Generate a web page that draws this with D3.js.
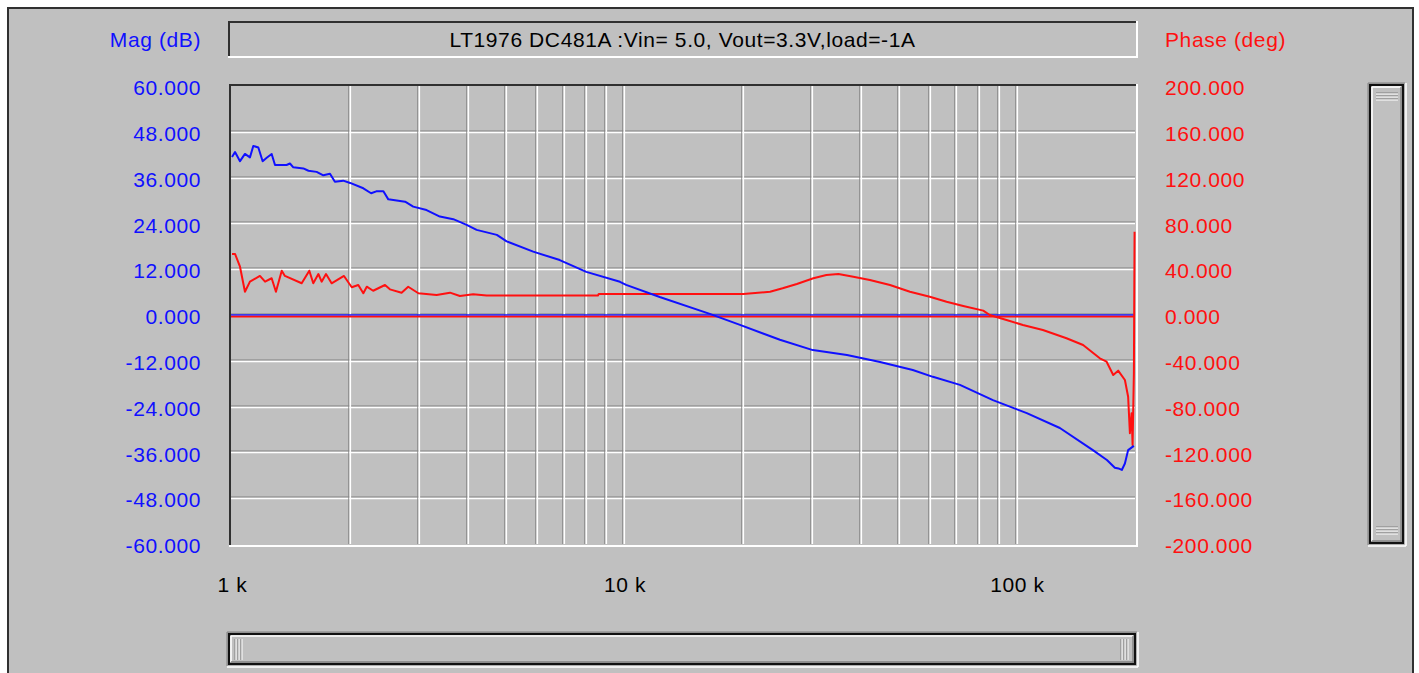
<!DOCTYPE html>
<html><head><meta charset="utf-8">
<script src="https://cdn.jsdelivr.net/npm/d3@7"></script>
<style>
html,body{margin:0;padding:0;background:#fff;}
svg text{font-family:"Liberation Sans",Arial,sans-serif;font-size:21px;letter-spacing:0.6px;}
</style></head>
<body>
<svg id="c" width="1419" height="673"></svg>
<script>
// ---- data ----
const title = "LT1976 DC481A :Vin= 5.0, Vout=3.3V,load=-1A";
const magTicks = [60,48,36,24,12,0,-12,-24,-36,-48,-60];
const phaseTicks = [200,160,120,80,40,0,-40,-80,-120,-160,-200];
const freqLabelValues = [1000,10000,100000];
const freqLabelText = ["1 k","10 k","100 k"];
const gridFreqs = [2000,3000,4000,5000,6000,7000,8000,9000,10000,20000,30000,40000,50000,60000,70000,80000,90000,100000];

const magFreq = [1000,1018,1048,1079,1111,1133,1167,1197,1226,1262,1287,1377,1405,1433,1520,1566,1643,1709,1777,1829,1920,2000,2161,2262,2332,2431,2502,2761,2896,3131,3386,3663,3962,4201,4730,5011,5855,6842,7996,9740,10100,12300,16500,19700,24900,30200,36900,44800,54300,61100,71600,86900,106000,128700,156200,169600,177700,181500,185100,188500,192100,198700];
const magDb = [41.4,42.7,40.3,42.2,41.3,44.3,43.9,40.3,41.2,42.2,39.3,39.3,39.7,38.7,38.4,37.8,37.5,36.6,37.0,34.9,35.2,34.6,33.2,31.9,32.4,32.4,30.3,29.7,28.4,27.5,25.8,25.1,23.6,22.3,21.0,19.3,16.6,14.4,11.3,8.7,7.9,4.7,0.3,-2.6,-6.5,-9.2,-10.5,-12.3,-14.4,-16.2,-18.3,-22.3,-25.7,-29.6,-35.4,-38.0,-40.0,-40.2,-40.6,-38.9,-35.4,-34.3];

const phaseFreq = [1000,1018,1048,1079,1111,1178,1214,1262,1294,1339,1364,1505,1574,1611,1660,1692,1736,1794,1929,2019,2098,2161,2205,2289,2454,2526,2705,2812,2985,3322,3593,3808,4117,4455,8560,8600,20080,23500,25300,27500,30300,32700,35100,38300,42200,47500,53400,60000,66200,73000,82100,85300,94100,103600,116500,133800,147500,162700,169300,176000,181200,188500,192100,194100,196000,197200,198700,199500];
const phaseDeg = [53.3,53.3,42.2,20.3,29.1,34.1,29.1,32.1,20.3,38.7,34.1,27.7,38.7,27.7,35.8,29.1,35.8,27.7,34.1,24.2,26.2,19.0,24.7,21.2,26.2,22.4,19.5,24.7,19.0,17.5,19.5,16.6,18.1,17.0,17.0,18.3,18.3,20.3,23.3,27.1,32.1,34.9,35.8,33.4,30.6,26.2,20.3,16.0,11.6,7.9,3.8,0,-4.4,-8.7,-13.1,-20.3,-26.2,-37.8,-40.8,-52.4,-48.6,-56.8,-71.4,-103.3,-85.9,-113.5,-50.9,72.8];

// ---- drawing ----
const svg = d3.select("#c");
const BG = "#c0c0c0", DARK = "#303030", MID = "#808080", LIGHT = "#ffffff";
const BLUE = "#1010ff", RED = "#ff1010";

const L = 232, R = 1135, T = 86, B = 544;
const x = d3.scaleLog().domain([1000, 200000]).range([L, R]);
const yMag = d3.scaleLinear().domain([-60, 60]).range([B, T]);
const yPh = d3.scaleLinear().domain([-200, 200]).range([B, T]);

function hline(g, x1, x2, y, c, w){ g.append("line").attr("x1",x1).attr("x2",x2).attr("y1",y).attr("y2",y).attr("stroke",c).attr("stroke-width",w); }
function vline(g, xx, y1, y2, c, w){ g.append("line").attr("x1",xx).attr("x2",xx).attr("y1",y1).attr("y2",y2).attr("stroke",c).attr("stroke-width",w); }
function sunken(g, x1, y1, x2, y2){
  hline(g, x1, x2, y1+1, DARK, 2); vline(g, x1+1, y1, y2, DARK, 2);
  hline(g, x1, x2+1, y2, LIGHT, 2); vline(g, x2, y1, y2+1, LIGHT, 2);
}

// outer panel
svg.append("rect").attr("x",8).attr("y",8).attr("width",1405).attr("height",670).attr("fill",BG);
hline(svg, 7, 1414, 8, DARK, 2);
vline(svg, 8, 7, 673, DARK, 2);
vline(svg, 1413, 7, 673, DARK, 2);

// title box
sunken(svg, 228, 21, 1137, 57);
svg.append("text").attr("x",(228+1137)/2).attr("y",47).attr("text-anchor","middle").attr("fill","#000").text(title);

// axis titles
svg.append("text").attr("x",201).attr("y",47).attr("text-anchor","end").attr("fill",BLUE).text("Mag (dB)");
svg.append("text").attr("x",1165).attr("y",47).attr("fill",RED).text("Phase (deg)");

// grid
const grid = svg.append("g");
magTicks.filter(v => v !== 60 && v !== -60).forEach(v => {
  const yy = Math.round(yMag(v));
  hline(grid, L-1, R, yy-1, MID, 1);
  hline(grid, L-1, R, yy+0.5, LIGHT, 1.6);
});
gridFreqs.forEach(f => {
  const xx = Math.round(x(f));
  vline(grid, xx-1.2, T, B, MID, 1);
  vline(grid, xx+0.3, T, B, LIGHT, 1.6);
});

// plot frame
sunken(svg, 229, 84, 1137, 546);

// axes (labels only)
const f3 = d3.format(".3f");
const fmt = v => f3(v).replace("\u2212", "-");
const ax1 = svg.append("g").attr("transform","translate(201,2)")
  .call(d3.axisLeft(yMag).tickValues(magTicks).tickFormat(fmt).tickSize(0).tickPadding(0));
ax1.select(".domain").remove();
ax1.selectAll("text").attr("fill",BLUE).style("font-size","21px").style("font-family","Liberation Sans, Arial, sans-serif");

const ax2 = svg.append("g").attr("transform","translate(1165,2)")
  .call(d3.axisRight(yPh).tickValues(phaseTicks).tickFormat(fmt).tickSize(0).tickPadding(0));
ax2.select(".domain").remove();
ax2.selectAll("text").attr("fill",RED).style("font-size","21px").style("font-family","Liberation Sans, Arial, sans-serif");

const ax3 = svg.append("g").attr("transform","translate(0,577)")
  .call(d3.axisBottom(x).tickValues(freqLabelValues).tickFormat((d,i) => freqLabelText[i]).tickSize(0).tickPadding(0));
ax3.select(".domain").remove();
ax3.selectAll("text").attr("fill","#000").style("font-size","21px").style("font-family","Liberation Sans, Arial, sans-serif");

// zero reference lines
hline(svg, L-1, R, yMag(0), BLUE, 1.6);
hline(svg, L-1, R, yPh(0)+1.6, RED, 1.6);

// curves
const clip = svg.append("clipPath").attr("id","pc").append("rect").attr("x",L-1).attr("y",T).attr("width",R-L+2).attr("height",B-T);
const magData = magFreq.map((f,i) => [f, magDb[i]]);
const phData = phaseFreq.map((f,i) => [f, phaseDeg[i]]);
svg.append("path").datum(phData).attr("clip-path","url(#pc)")
  .attr("d", d3.line().x(d => x(d[0])).y(d => yPh(d[1])))
  .attr("fill","none").attr("stroke",RED).attr("stroke-width",2).attr("stroke-linejoin","round");
svg.append("path").datum(magData).attr("clip-path","url(#pc)")
  .attr("d", d3.line().x(d => x(d[0])).y(d => yMag(d[1])))
  .attr("fill","none").attr("stroke",BLUE).attr("stroke-width",2).attr("stroke-linejoin","round");

// scrollbars
function scrollbox(g, x1, y1, x2, y2){
  g.append("rect").attr("x",x1).attr("y",y1).attr("width",x2-x1).attr("height",y2-y1).attr("fill",BG);
  hline(g, x1-1, x2+1, y1-1, MID, 1); vline(g, x1-1, y1-1, y2+1, MID, 1);
  hline(g, x1-1, x2+2, y2+2, LIGHT, 1.5); vline(g, x2+2, y1-1, y2+2, LIGHT, 1.5);
  g.append("rect").attr("x",x1+1).attr("y",y1+1).attr("width",x2-x1-2).attr("height",y2-y1-2).attr("fill","none").attr("stroke","#101010").attr("stroke-width",2.2);
  hline(g, x1+3, x2-3, y1+3, LIGHT, 1.6); vline(g, x1+3, y1+3, y2-3, LIGHT, 1.6);
  hline(g, x1+3, x2-2, y2-3, MID, 1.4); vline(g, x2-3, y1+3, y2-2, MID, 1.4);
}
const sb = svg.append("g");
scrollbox(sb, 1369, 84, 1404, 544);
[93,96,99].forEach(v => { hline(sb, 1376, 1398, v, MID, 1); hline(sb, 1376, 1398, v+1, LIGHT, 1); });
[527,530,533].forEach(v => { hline(sb, 1376, 1398, v, MID, 1); hline(sb, 1376, 1398, v+1, LIGHT, 1); });

const sb2 = svg.append("g");
scrollbox(sb2, 228, 633, 1136, 665);
[235,238,241].forEach(v => { vline(sb2, v, 639, 660, MID, 1); vline(sb2, v+1, 639, 660, LIGHT, 1); });
[1121,1124,1127].forEach(v => { vline(sb2, v, 639, 660, MID, 1); vline(sb2, v+1, 639, 660, LIGHT, 1); });
</script>
</body></html>
